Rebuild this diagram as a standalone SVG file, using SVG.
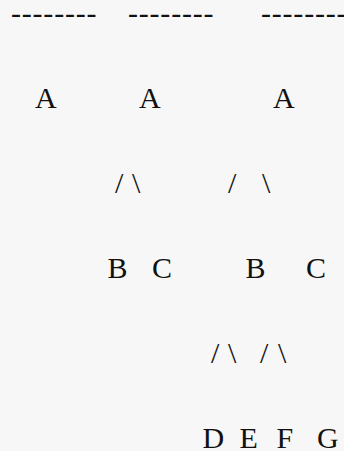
<svg xmlns="http://www.w3.org/2000/svg" width="344" height="451" viewBox="0 0 344 451">
<style>
text{font-family:"Liberation Serif","Times New Roman",serif;font-size:30px;fill:#111}
.dash{letter-spacing:0.8px}
</style>
<rect width="344" height="451" fill="#f7f7f7"/>
<g id="rules">
<text class="dash" x="11" y="23">--------</text>
<text class="dash" x="128" y="23">--------</text>
<text class="dash" x="261" y="23">--------</text>
</g>
<g id="connectors">
<text x="115" y="193">/</text><text x="132" y="193">\</text>
<text x="228" y="193">/</text><text x="262" y="193">\</text>
<text x="211" y="363">/</text><text x="228" y="363">\</text>
<text x="260" y="363">/</text><text x="278" y="363">\</text>
</g>
<g id="node-A1"><text x="35" y="108">A</text></g>
<g id="node-A2"><text x="139" y="108">A</text></g>
<g id="node-A3"><text x="273" y="108">A</text></g>
<g id="node-B1"><text x="107.5" y="278">B</text></g>
<g id="node-C1"><text x="152" y="278">C</text></g>
<g id="node-B2"><text x="245.5" y="278">B</text></g>
<g id="node-C2"><text x="306" y="278">C</text></g>
<g id="node-D"><text x="202.5" y="448">D</text></g>
<g id="node-E"><text x="239.5" y="448">E</text></g>
<g id="node-F"><text x="276.5" y="448">F</text></g>
<g id="node-G"><text x="317" y="448">G</text></g>
</svg>
